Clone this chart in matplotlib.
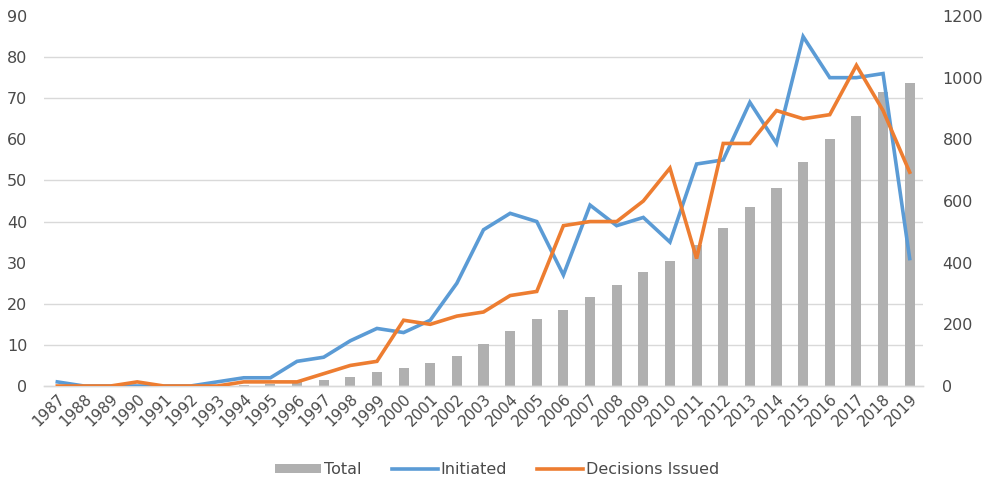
import matplotlib
matplotlib.use("Agg")
import matplotlib.pyplot as plt
from matplotlib.ticker import MultipleLocator
from matplotlib.lines import Line2D
from matplotlib.patches import Patch

years = [str(y) for y in range(1987, 2020)]
initiated = [1, 0, 0, 0, 0, 0, 1, 2, 2, 6, 7, 11, 14, 13, 16, 25, 38, 42, 40, 27,
             44, 39, 41, 35, 54, 55, 69, 59, 85, 75, 75, 76, 31]
decisions = [0, 0, 0, 1, 0, 0, 0, 1, 1, 1, 3, 5, 6, 16, 15, 17, 18, 22, 23, 39,
             40, 40, 45, 53, 31, 59, 59, 67, 65, 66, 78, 67, 52]
total = [1, 1, 1, 1, 1, 1, 2, 4, 6, 12, 19, 30, 44, 57, 73, 98, 136, 178, 218, 245,
         289, 328, 369, 404, 458, 513, 582, 641, 726, 801, 876, 952, 983]

BLUE = "#5B9BD5"
ORANGE = "#ED7D31"
GRAY = "#B0B0B0"
TXT = "#4A4A4A"
GRID = "#D9D9D9"

plt.rcParams['font.family'] = ['DejaVu Sans']

fig = plt.figure(figsize=(9.87, 4.83), dpi=100)
ax = fig.add_axes([44/987, (483-386)/483, (923-44)/987, (386-16)/483])
ax2 = ax.twinx()

x = list(range(len(years)))

# bars on secondary axis (behind)
ax2.bar(x, total, width=0.38, color=GRAY, zorder=2)
ax2.set_ylim(0, 1200)
ax2.yaxis.set_major_locator(MultipleLocator(200))
ax2.yaxis.set_minor_locator(MultipleLocator(1200/9))
ax2.grid(which='minor', axis='y', color=GRID, linewidth=1)
ax2.set_axisbelow(True)
ax2.tick_params(axis='y', which='both', length=0, pad=14, labelsize=11.5, labelcolor=TXT)
ax2.tick_params(axis='y', which='minor', length=0)

# lines on primary axis (front)
ax.set_zorder(ax2.get_zorder() + 1)
ax.patch.set_visible(False)
ax.plot(x, initiated, color=BLUE, linewidth=2.6, solid_joinstyle='miter', zorder=3)
ax.plot(x, decisions, color=ORANGE, linewidth=2.6, solid_joinstyle='miter', zorder=4)
ax.set_ylim(0, 90)
ax.set_xlim(-0.5, len(years) - 0.5)
ax.yaxis.set_major_locator(MultipleLocator(10))
ax.tick_params(axis='y', length=0, pad=12, labelsize=11.5, labelcolor=TXT)
ax.set_xticks(x)
ax.set_xticklabels(years, rotation=45, ha='right', rotation_mode='anchor',
                   fontsize=11, color=TXT)
ax.tick_params(axis='x', length=0, pad=4)

for a in (ax, ax2):
    for s in ['top', 'left', 'right']:
        a.spines[s].set_visible(False)
    a.spines['bottom'].set_color(GRID)
    a.spines['bottom'].set_linewidth(1)

handles = [Patch(facecolor=GRAY, edgecolor='none'),
           Line2D([0], [0], color=BLUE, linewidth=2.6),
           Line2D([0], [0], color=ORANGE, linewidth=2.6)]
fig.legend(handles, ['Total', 'Initiated', 'Decisions Issued'], loc='center',
           bbox_to_anchor=(497/987, 1 - 470/483), ncol=3, frameon=False,
           fontsize=11.5, labelcolor=TXT, handlelength=2.9, handletextpad=0.15,
           columnspacing=1.9, handleheight=0.5)

fig.savefig("out.png", dpi=100)
